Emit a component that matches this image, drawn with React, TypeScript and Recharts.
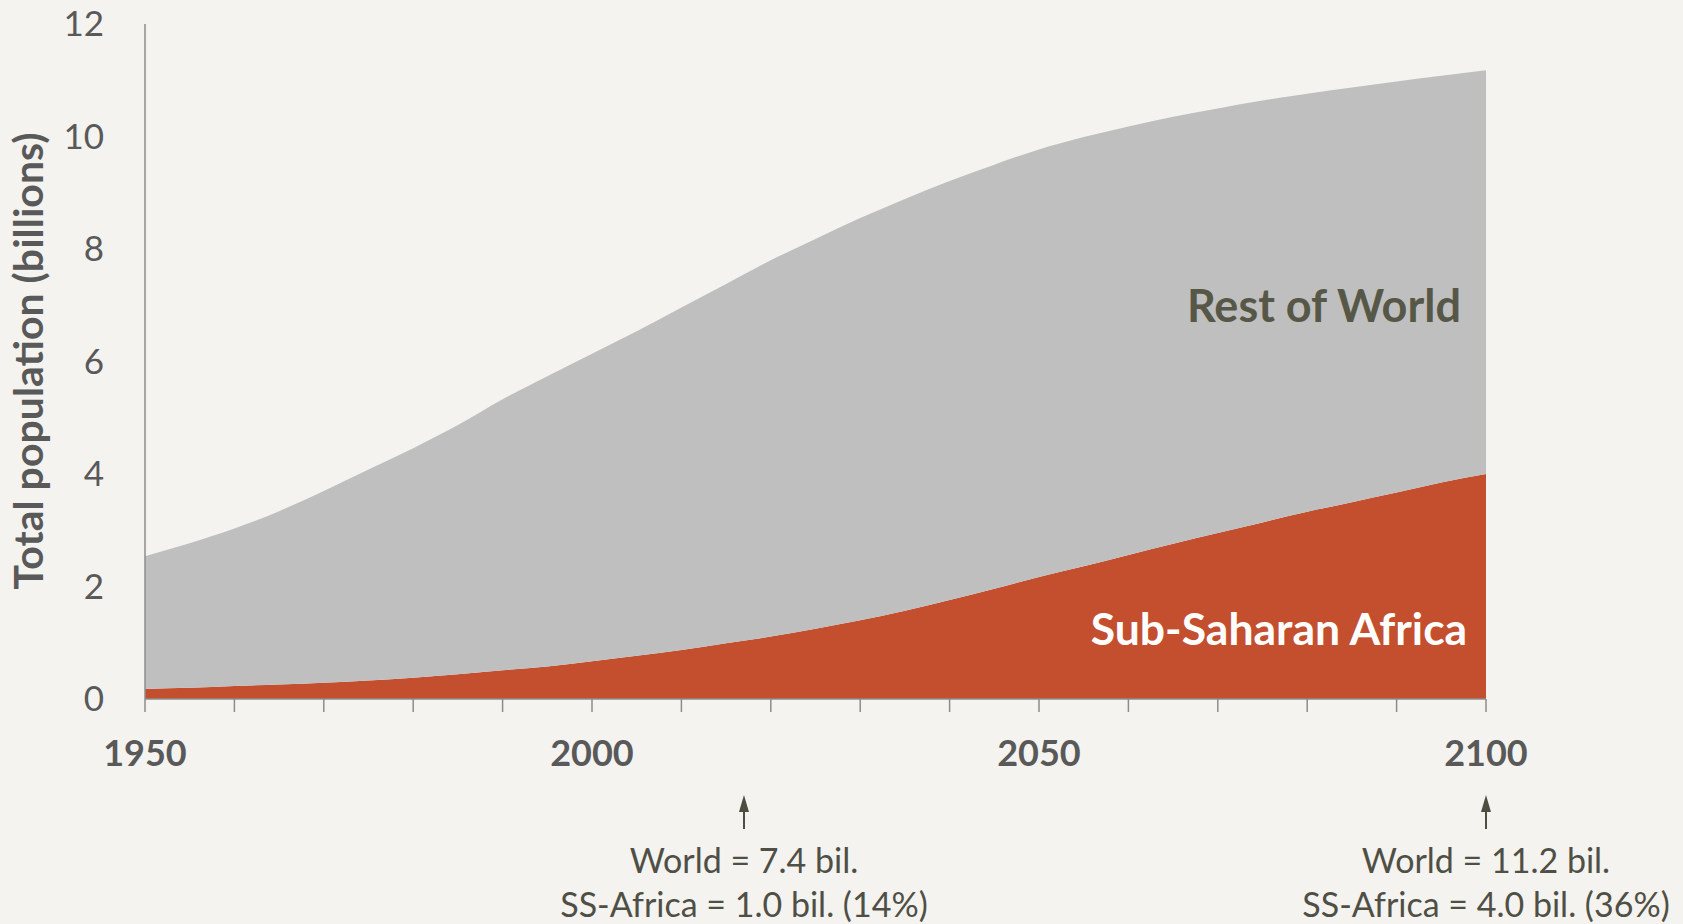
// @ts-nocheck
import { AreaChart, Area, XAxis, YAxis, ReferenceDot, Label } from 'recharts';

// years on the x axis
const years = [
  1950, 1955, 1960, 1965, 1970, 1975, 1980, 1985, 1990, 1995, 2000, 2005, 2010, 2015,
  2020, 2025, 2030, 2035, 2040, 2045, 2050, 2055, 2060, 2065, 2070, 2075, 2080, 2085,
  2090, 2095, 2100,
];

// total world population (billions)
const world = [
  2.54, 2.77, 3.03, 3.34, 3.7, 4.08, 4.46, 4.87, 5.33, 5.74, 6.14, 6.54, 6.96, 7.38,
  7.8, 8.18, 8.55, 8.89, 9.21, 9.5, 9.77, 9.99, 10.18, 10.35, 10.5, 10.64, 10.76, 10.87,
  10.98, 11.08, 11.18,
];

// sub-saharan africa population (billions)
const ssAfrica = [
  0.18, 0.2, 0.23, 0.26, 0.29, 0.33, 0.38, 0.44, 0.51, 0.58, 0.67, 0.77, 0.87, 0.99,
  1.11, 1.25, 1.4, 1.57, 1.76, 1.96, 2.17, 2.36, 2.56, 2.76, 2.95, 3.14, 3.33, 3.5,
  3.67, 3.85, 4.0,
];

const xTicks = [1950, 1960, 1970, 1980, 1990, 2000, 2010, 2020, 2030, 2040, 2050, 2060, 2070, 2080, 2090, 2100];
const yTicks = [0, 2, 4, 6, 8, 10, 12];

const notes = [
  { year: 2017, lines: ['World = 7.4 bil.', 'SS-Africa = 1.0 bil. (14%)'] },
  { year: 2100, lines: ['World = 11.2 bil.', 'SS-Africa = 4.0 bil. (36%)'] },
];

const rows = years.map((year, i) => ({
  year,
  ssa: ssAfrica[i],
  rest: +(world[i] - ssAfrica[i]).toFixed(2),
}));

const FONT = 'Lato, "Open Sans", sans-serif';
const BG = '#f4f3ef';
const AXIS = '#8c8c8c';

const yTitle = (props) => (
  <text
    x={43}
    y={361}
    transform="rotate(-90 43 361)"
    textAnchor="middle"
    fontFamily={FONT}
    fontWeight={700}
    fontSize={41}
    fill="#595959"
  >
    Total population (billions)
  </text>
);

const note = (lines) => (p) => {
  const { cx, cy } = p;
  if (cx == null || cy == null) return null;
  return (
    <g>
      <line x1={cx} y1={cy + 110} x2={cx} y2={cy + 130} stroke="#4d4d42" strokeWidth={2} />
      <path d={`M${cx - 5},${cy + 113} L${cx},${cy + 96} L${cx + 5},${cy + 113} Z`} fill="#4d4d42" />
      <text x={cx} y={cy + 174} textAnchor="middle" fontFamily={FONT} fontSize={34} fill="#4f4f45">
        {lines[0]}
      </text>
      <text x={cx} y={cy + 218} textAnchor="middle" fontFamily={FONT} fontSize={34} fill="#4f4f45">
        {lines[1]}
      </text>
    </g>
  );
};

const areaText = (text, fill, size) => (p) => {
  if (p.cx == null || p.cy == null) return null;
  return (
    <text x={p.cx} y={p.cy} textAnchor="end" fontFamily={FONT} fontWeight={700} fontSize={size} fill={fill}>
      {text}
    </text>
  );
};

export default function App() {
  return (
    <div style={{ width: 1683, height: 924, background: BG }}>
      <style>{'body{margin:0;background:' + BG + '}'}</style>
      <AreaChart width={1683} height={924} data={rows} margin={{ top: 24, right: 197, bottom: 0, left: 0 }}>
        <XAxis
          dataKey="year"
          type="number"
          domain={[1950, 2100]}
          ticks={xTicks}
          interval={0}
          tickFormatter={(v) => (v % 50 === 0 ? String(v) : '')}
          height={225}
          stroke={AXIS}
          strokeWidth={1.5}
          tickSize={13}
          tickMargin={28}
          tick={{ fill: '#595959', fontSize: 36, fontWeight: 700, fontFamily: FONT }}
        />
        <YAxis
          type="number"
          domain={[0, 12]}
          ticks={yTicks}
          interval={0}
          width={145}
          stroke={AXIS}
          strokeWidth={1.5}
          tickLine={false}
          tickSize={0}
          tickMargin={41}
          tick={{ fill: '#595959', fontSize: 35, fontFamily: FONT }}
        >
          <Label content={yTitle} />
        </YAxis>
        <Area
          type="monotone"
          dataKey="ssa"
          stackId="pop"
          stroke="none"
          fill="#c44f2e"
          fillOpacity={1}
          isAnimationActive={false}
        />
        <Area
          type="monotone"
          dataKey="rest"
          stackId="pop"
          stroke="none"
          fill="#bfbfbf"
          fillOpacity={1}
          isAnimationActive={false}
        />
        <ReferenceDot x={2097.2} y={6.7} r={0} shape={areaText('Rest of World', '#575748', 45)} />
        <ReferenceDot x={2097.9} y={0.96} r={0} shape={areaText('Sub-Saharan Africa', '#ffffff', 44.5)} />
        {notes.map((n) => (
          <ReferenceDot key={n.year} x={n.year} y={0} r={0} shape={note(n.lines)} />
        ))}
      </AreaChart>
    </div>
  );
}
